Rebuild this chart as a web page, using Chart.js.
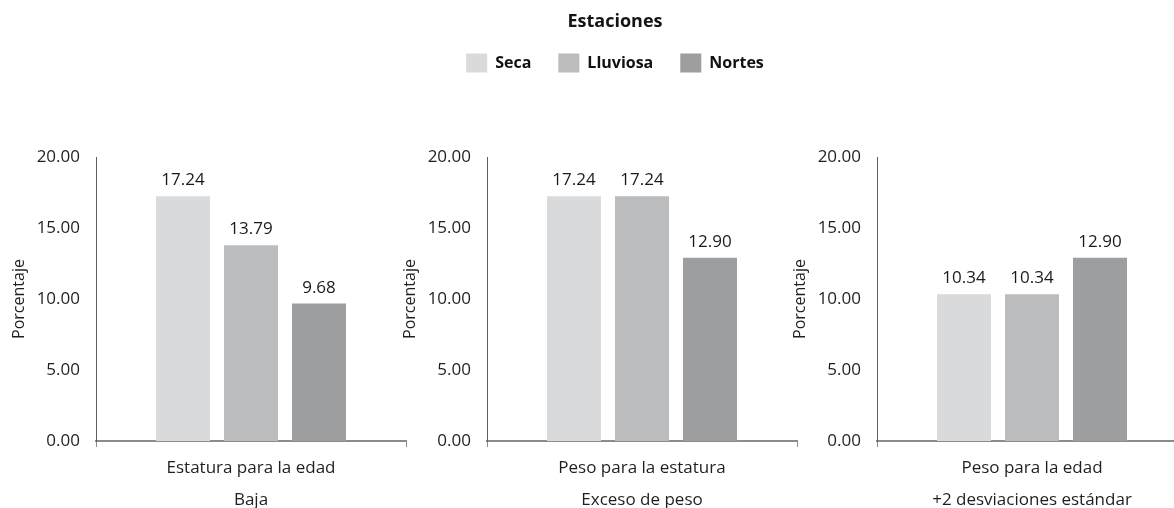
<!DOCTYPE html>
<html>
<head>
<meta charset="utf-8">
<script src="https://cdn.jsdelivr.net/npm/chart.js@4.4.1/dist/chart.umd.min.js"></script>
<style>
  html, body { margin: 0; padding: 0; background: #fff; overflow: hidden; }
  #wrap { position: relative; width: 1174px; height: 508px; overflow: hidden; }
  canvas { position: absolute; top: 0; }
</style>
</head>
<body>
<div id="wrap">
  <canvas id="panel0" width="430" height="508" style="left:0px"></canvas>
  <canvas id="panel1" width="430" height="508" style="left:391px"></canvas>
  <canvas id="panel2" width="430" height="508" style="left:781px"></canvas>
  <canvas id="legendCanvas" width="1174" height="508" style="left:0px"></canvas>
</div>
<script>
// Indicator groups (one panel each), two-line axis labels
const categories = [
  ['Estatura para la edad', 'Baja'],
  ['Peso para la estatura', 'Exceso de peso'],
  ['Peso para la edad', '+2 desviaciones estándar']
];
const seasons = ['Seca', 'Lluviosa', 'Nortes'];

// Percentages per season, one value per indicator group
const seca = [17.24, 17.24, 10.34];
const lluviosa = [13.79, 17.24, 10.34];
const nortes = [9.68, 12.90, 12.90];

const yTicks = [0, 5, 10, 15, 20];
const seasonColors = ['#d9dadc', '#bbbcbe', '#9d9ea0'];

const seriesValues = [seca, lluviosa, nortes];
const FONT = "'Open Sans', 'Noto Sans', sans-serif";
Chart.defaults.font.family = FONT;
Chart.defaults.color = '#1f1f1f';

// Prints each bar's value above it
const valueLabels = {
  id: 'valueLabels',
  afterDatasetsDraw(chart) {
    const ctx = chart.ctx;
    ctx.save();
    ctx.font = '17px ' + FONT;
    ctx.fillStyle = '#1a1a1a';
    ctx.textAlign = 'center';
    ctx.textBaseline = 'alphabetic';
    chart.data.datasets.forEach((ds, i) => {
      chart.getDatasetMeta(i).data.forEach((bar, j) => {
        ctx.fillText(ds.data[j].toFixed(2), bar.x, bar.y - 11);
      });
    });
    ctx.restore();
  }
};

function makePanel(canvasId, k) {
  return new Chart(document.getElementById(canvasId), {
    type: 'bar',
    data: {
      labels: [categories[k]],
      datasets: seriesValues.map((vals, i) => ({
        label: seasons[i],
        data: [vals[k]],
        backgroundColor: seasonColors[i],
        borderWidth: 0,
        categoryPercentage: 0.658,
        barPercentage: 0.794
      }))
    },
    options: {
      responsive: false,
      animation: false,
      devicePixelRatio: 1,
      layout: { padding: { top: 157, right: 24, bottom: 0, left: 0 } },
      plugins: { legend: { display: false }, tooltip: { enabled: false } },
      scales: {
        x: {
          grid: { display: true, drawOnChartArea: false, drawTicks: true, tickLength: 6, color: '#8c8c8c', lineWidth: 1 },
          border: { display: true, color: '#8c8c8c', width: 2 },
          ticks: { font: { size: 17, lineHeight: 32 / 17 }, color: '#1f1f1f', padding: 5, maxRotation: 0, autoSkip: false },
          afterFit(scale) { scale.height = 67; }
        },
        y: {
          min: yTicks[0],
          max: yTicks[yTicks.length - 1],
          ticks: {
            stepSize: yTicks[1] - yTicks[0],
            callback: v => Number(v).toFixed(2),
            font: { size: 17 },
            color: '#1f1f1f',
            padding: 16
          },
          grid: { display: false, drawTicks: false },
          border: { display: true, color: '#5f5f5f', width: 1 },
          title: {
            display: true,
            text: 'Porcentaje',
            font: { size: 16 },
            color: '#1f1f1f',
            padding: { top: 10, bottom: 0 }
          },
          afterFit(scale) { scale.width = 96; }
        }
      }
    },
    plugins: [valueLabels]
  });
}

makePanel('panel0', 0);
makePanel('panel1', 1);
makePanel('panel2', 2);

// Shared legend for the three panels
new Chart(document.getElementById('legendCanvas'), {
  type: 'bar',
  data: {
    labels: [],
    datasets: seasons.map((s, i) => ({ label: s, data: [], backgroundColor: seasonColors[i], borderWidth: 0 }))
  },
  options: {
    responsive: false,
    animation: false,
    devicePixelRatio: 1,
    layout: { padding: { top: 13, left: 56 } },
    scales: { x: { display: false }, y: { display: false } },
    plugins: {
      tooltip: { enabled: false },
      legend: {
        position: 'top',
        title: {
          display: true,
          text: 'Estaciones',
          color: '#141414',
          font: { size: 18, weight: 'bold' },
          padding: { top: 0, bottom: -8 }
        },
        labels: {
          boxWidth: 21,
          boxHeight: 19,
          padding: 27,
          color: '#111111',
          font: { size: 16, weight: 'bold' }
        }
      }
    }
  }
});
</script>
</body>
</html>
